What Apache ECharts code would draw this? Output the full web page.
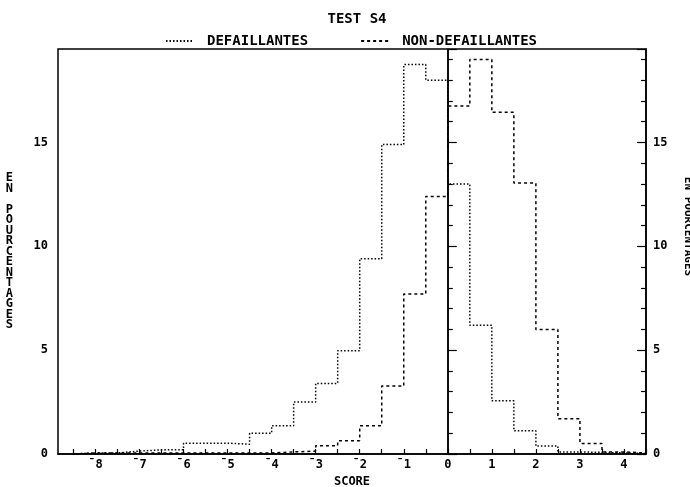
<!DOCTYPE html>
<html>
<head>
<meta charset="utf-8">
<title>TEST S4</title>
<script src="https://cdn.jsdelivr.net/npm/echarts@6/dist/echarts.min.js"></script>
<style>
    html, body { margin: 0; padding: 0; background: #fff; }
    #chart { width: 690px; height: 487px; }
</style>
</head>
<body>
<div id="chart"></div>
<script>
// debut de chaque classe de score (largeur 0.5)
var binStarts = [-8.5, -8, -7.5, -7, -6.5, -6, -5.5, -5, -4.5, -4, -3.5, -3, -2.5,
                 -2, -1.5, -1, -0.5, 0, 0.5, 1, 1.5, 2, 2.5, 3, 3.5, 4];
var binEnd = 4.5;
// pourcentages
var defaillantes = [0.05, 0.05, 0.14, 0.2, 0.2, 0.52, 0.52, 0.47, 1.0, 1.36, 2.5, 3.4, 4.97,
                    9.4, 14.9, 18.75, 18.0, 13.0, 6.2, 2.56, 1.12, 0.38, 0.1, 0.08, 0.05, 0.02];
var nonDefaillantes = [0.05, 0.05, 0.05, 0.05, 0.05, 0.05, 0.05, 0.05, 0.05, 0.1, 0.14, 0.4, 0.64,
                       1.36, 3.27, 7.7, 12.4, 16.75, 19.0, 16.45, 13.05, 6.0, 1.7, 0.51, 0.1, 0.05];
var xTicks = [-8.5, -8, -7.5, -7, -6.5, -6, -5.5, -5, -4.5, -4, -3.5, -3, -2.5, -2, -1.5, -1,
              -0.5, 0, 0.5, 1, 1.5, 2, 2.5, 3, 3.5, 4, 4.5];
var xLabels = [-8, -7, -6, -5, -4, -3, -2, -1, 0, 1, 2, 3, 4];

var FONT = 'DejaVu Sans Mono';

/* construit la courbe en escalier */
function steps(values) {
    var pts = [[binStarts[0], 0]];
    for (var i = 0; i < binStarts.length; i++) {
        pts.push([binStarts[i], values[i]]);
    }
    pts.push([binEnd, values[values.length - 1]]);
    return pts;
}

var yName = 'EN POURCENTAGES';

var myChart = echarts.init(document.getElementById('chart'));
var option = {
    animation: false,
    backgroundColor: '#fff',
    title: {
        text: 'TEST S4',
        left: 352,
        textAlign: 'center',
        top: 7,
        textStyle: { fontFamily: FONT, fontSize: 14, fontWeight: 'bold', color: '#000' }
    },
    legend: {
        left: 160,
        top: 29,
        itemWidth: 28,
        itemHeight: 10,
        itemGap: 52,
        itemStyle: { opacity: 0 },
        textStyle: { fontFamily: FONT, fontSize: 14, fontWeight: 'bold', color: '#000', padding: [0, 0, 0, 8] },
        data: ['DEFAILLANTES', 'NON-DEFAILLANTES']
    },
    grid: {
        left: 58,
        right: 44,
        top: 49,
        bottom: 33,
        containLabel: false,
        outerBoundsMode: 'none',
        show: true,
        borderColor: '#000',
        borderWidth: 1.5
    },
    xAxis: {
        type: 'value',
        min: -8.85,
        max: 4.5,
        name: 'SCORE',
        nameLocation: 'middle',
        nameGap: 19,
        nameTextStyle: { fontFamily: FONT, fontSize: 12, fontWeight: 'bold', color: '#000' },
        axisLine: { onZero: false, lineStyle: { color: '#000', width: 1.5 } },
        axisTick: { inside: true, length: 5, customValues: xTicks, lineStyle: { color: '#000', width: 1.2 } },
        axisLabel: {
            customValues: xLabels,
            margin: 5,
            fontFamily: FONT, fontSize: 12, fontWeight: 'bold', color: '#000',
            formatter: function (v) { return v < 0 ? '\u00AF' + Math.abs(v) : String(v); }
        },
        splitLine: { show: false }
    },
    yAxis: [{
        type: 'value',
        min: 0,
        max: 19.5,
        interval: 5,
        position: 'left',
        name: yName.split('').join('\n'),
        nameLocation: 'middle',
        nameRotate: 0,
        nameGap: 45,
        nameTextStyle: { fontFamily: FONT, fontSize: 12, fontWeight: 'bold', color: '#000', lineHeight: 10.5 },
        axisLine: { show: true, lineStyle: { color: '#000', width: 1.5 } },
        axisTick: { inside: true, length: 9, lineStyle: { color: '#000', width: 1.2 } },
        minorTick: { show: true, splitNumber: 5, length: 5, lineStyle: { color: '#000', width: 1.2 } },
        axisLabel: { margin: 10, showMaxLabel: false, fontFamily: FONT, fontSize: 12, fontWeight: 'bold', color: '#000' },
        splitLine: { show: false }
    }, {
        type: 'value',
        min: 0,
        max: 19.5,
        interval: 5,
        position: 'right',
        name: yName,
        nameLocation: 'middle',
        nameRotate: -90,
        nameGap: 36,
        nameTextStyle: { fontFamily: FONT, fontSize: 11, fontWeight: 'bold', color: '#000', padding: [0, 50, 0, 0] },
        axisLine: { show: true, lineStyle: { color: '#000', width: 1.5 } },
        axisTick: { inside: true, length: 9, lineStyle: { color: '#000', width: 1.2 } },
        minorTick: { show: true, splitNumber: 5, length: 5, lineStyle: { color: '#000', width: 1.2 } },
        axisLabel: { margin: 7, showMaxLabel: false, fontFamily: FONT, fontSize: 12, fontWeight: 'bold', color: '#000' },
        splitLine: { show: false }
    }],
    series: [{
        name: 'DEFAILLANTES',
        type: 'line',
        step: 'end',
        symbol: 'none',
        data: steps(defaillantes),
        lineStyle: { color: '#000', width: 1.5, type: [1.5, 2] },
        itemStyle: { color: '#000' },
        markLine: {
            silent: true,
            symbol: 'none',
            label: { show: false },
            lineStyle: { color: '#000', width: 1.5, type: 'solid' },
            data: [{ xAxis: 0 }]
        }
    }, {
        name: 'NON-DEFAILLANTES',
        type: 'line',
        step: 'end',
        symbol: 'none',
        data: steps(nonDefaillantes),
        lineStyle: { color: '#000', width: 1.5, type: [3, 3] },
        itemStyle: { color: '#000' }
    }]
};
myChart.setOption(option);
</script>
</body>
</html>
